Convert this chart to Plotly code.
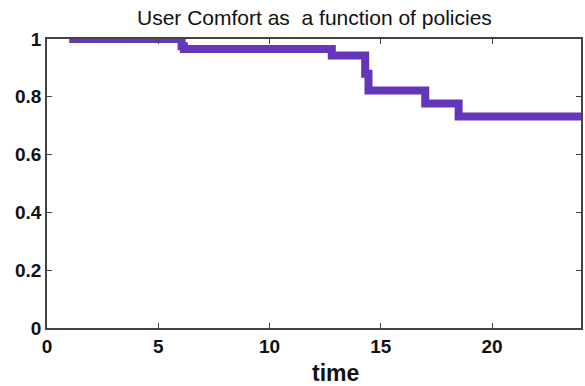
import plotly.graph_objects as go

# Step times (change points) and comfort levels after each change
step_times = [1, 6.05, 6.15, 12.8, 14.3, 14.45, 17.0, 18.5]
comfort = [1.0, 0.975, 0.965, 0.943, 0.88, 0.822, 0.777, 0.732]
end_time = 24

x_ticks = [0, 5, 10, 15, 20]
y_ticks = [0, 0.2, 0.4, 0.6, 0.8, 1]
y_tick_labels = ["0", "0.2", "0.4", "0.6", "0.8", "1"]

title_text = "User Comfort as  a function of policies"
x_title = "time"

xs = step_times + [end_time]
ys = comfort + [comfort[-1]]

fig = go.Figure()
fig.add_trace(go.Scatter(
    x=xs, y=ys, mode="lines", line_shape="hv",
    line=dict(color="#6436b9", width=8), showlegend=False,
))

axis_common = dict(
    showgrid=False, zeroline=False, showline=True, mirror="ticks",
    linecolor="#444444", linewidth=1.5, ticks="inside", ticklen=5,
    tickcolor="#444444", tickwidth=1.3,
    tickfont=dict(family="Liberation Sans, Arial", size=19, color="#111111", weight="bold"),
)

fig.update_layout(
    width=585, height=386,
    margin=dict(l=47, r=2, t=39, b=58),
    paper_bgcolor="white", plot_bgcolor="white",
    xaxis=dict(range=[0, end_time], tickvals=x_ticks, **axis_common),
    yaxis=dict(range=[0, 1], tickvals=y_ticks, ticktext=y_tick_labels, **axis_common),
    annotations=[
        dict(text=title_text, xref="paper", yref="paper", x=0.5, y=1,
             yshift=22, xanchor="center", yanchor="middle", showarrow=False,
             font=dict(family="Liberation Sans, Arial", size=21, color="#111111")),
        dict(text=x_title, xref="paper", yref="paper", x=0.54, y=0,
             yshift=-45, xanchor="center", yanchor="middle", showarrow=False,
             font=dict(family="Liberation Sans, Arial", size=23, color="#111111", weight="bold")),
    ],
)

fig.write_html("out.html", config={"displayModeBar": False},
               post_script="document.body.style.margin='0';document.body.style.padding='0';")
